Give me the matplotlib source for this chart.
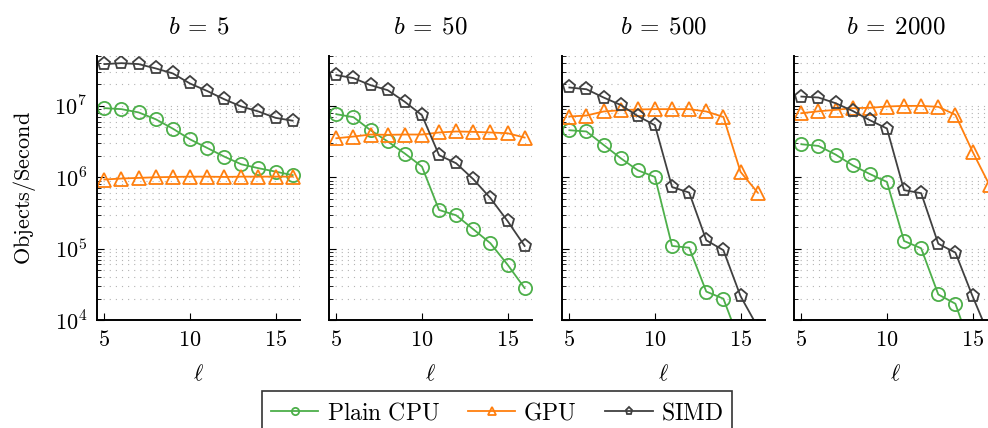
import math
import matplotlib
matplotlib.use("Agg")
import matplotlib.pyplot as plt
from matplotlib.ticker import LogLocator, FuncFormatter, FixedLocator, NullFormatter
from matplotlib.lines import Line2D

plt.rcParams['mathtext.fontset'] = 'cm'

ell = [5, 6, 7, 8, 9, 10, 11, 12, 13, 14, 15, 16]
panel_titles = [r'$b\:=\:5$', r'$b\:=\:50$', r'$b\:=\:500$', r'$b\:=\:2000$']

cpu_b5 = [9.3e6, 9.0e6, 8.1e6, 6.5e6, 4.8e6, 3.4e6, 2.58e6, 1.95e6, 1.52e6, 1.34e6, 1.20e6, 1.07e6]
gpu_b5 = [0.93e6, 0.96e6, 0.98e6, 1.0e6, 1.01e6, 1.02e6, 1.02e6, 1.01e6, 1.02e6, 1.02e6, 1.02e6, 1.02e6]
simd_b5 = [3.85e7, 3.97e7, 3.85e7, 3.35e7, 2.85e7, 2.06e7, 1.62e7, 1.24e7, 9.8e6, 8.35e6, 6.8e6, 6.2e6]

cpu_b50 = [7.65e6, 6.95e6, 4.56e6, 3.17e6, 2.15e6, 1.41e6, 3.48e5, 2.93e5, 1.87e5, 1.19e5, 5.97e4, 2.8e4]
gpu_b50 = [3.52e6, 3.72e6, 3.97e6, 3.93e6, 3.97e6, 3.97e6, 4.24e6, 4.38e6, 4.33e6, 4.24e6, 4.14e6, 3.6e6]
simd_b50 = [2.7e7, 2.45e7, 1.95e7, 1.66e7, 1.14e7, 7.4e6, 2.04e6, 1.57e6, 9.4e5, 5.1e5, 2.44e5, 1.09e5]

cpu_b500 = [4.56e6, 4.38e6, 2.84e6, 1.85e6, 1.25e6, 1.01e6, 1.09e5, 1.03e5, 2.5e4, 1.99e4, 4.6e3, 1.5e3]
gpu_b500 = [7.1e6, 7.33e6, 8.35e6, 8.7e6, 8.9e6, 9.0e6, 9.0e6, 9.0e6, 8.35e6, 7.0e6, 1.19e6, 6.1e5]
simd_b500 = [1.81e7, 1.71e7, 1.31e7, 1.03e7, 7.2e6, 5.36e6, 7.3e5, 6.1e5, 1.31e5, 9.5e4, 2.16e4, 8e3]

cpu_b2000 = [2.9e6, 2.75e6, 2.08e6, 1.47e6, 1.11e6, 8.6e5, 1.28e5, 1.01e5, 2.28e4, 1.69e4, 3.5e3, 1.2e3]
gpu_b2000 = [7.9e6, 8.4e6, 8.8e6, 9.3e6, 9.4e6, 9.8e6, 1.0e7, 1.0e7, 9.7e6, 7.5e6, 2.29e6, 7.7e5]
simd_b2000 = [1.35e7, 1.31e7, 1.09e7, 8.5e6, 6.3e6, 4.82e6, 6.6e5, 5.98e5, 1.17e5, 8.8e4, 2.16e4, 5.8e3]

cpu_all = [cpu_b5, cpu_b50, cpu_b500, cpu_b2000]
gpu_all = [gpu_b5, gpu_b50, gpu_b500, gpu_b2000]
simd_all = [simd_b5, simd_b50, simd_b500, simd_b2000]

series_labels = [r'$\mathrm{Plain\ CPU}$', r'$\mathrm{GPU}$', r'$\mathrm{SIMD}$']
x_ticks = [5, 10, 15]

C_CPU = '#4daf4a'
C_GPU = '#ff7f0e'
C_SIMD = '#404040'

W, H = 988, 428
fig = plt.figure(figsize=(W / 100, H / 100), dpi=100)

lefts = [97, 329, 562, 794]
ax_w = 203
ax_top = 56
ax_bot = 320

fs = 16
style = dict(lw=1.3, ms=9.5, mew=1.3, mfc='none')

for i in range(4):
    ax = fig.add_axes([lefts[i] / W, 1 - ax_bot / H, ax_w / W, (ax_bot - ax_top) / H])
    ax.plot(ell, cpu_all[i], color=C_CPU, marker='o', **style)
    ax.plot(ell, gpu_all[i], color=C_GPU, marker='^', **style)
    ax.plot(ell, simd_all[i], color=C_SIMD, marker='p', **style)
    ax.set_yscale('log')
    ax.set_ylim(1e4, 5e7)
    ax.set_xlim(4.57, 16.43)
    ax.spines['top'].set_visible(False)
    ax.spines['right'].set_visible(False)
    for s in ['left', 'bottom']:
        ax.spines[s].set_linewidth(1.4)
    ax.xaxis.set_major_locator(FixedLocator(x_ticks))
    ax.xaxis.set_major_formatter(FuncFormatter(lambda v, p: r'$%d$' % v))
    ax.yaxis.set_major_locator(LogLocator(base=10, numticks=10))
    ax.yaxis.set_minor_locator(LogLocator(base=10, subs=range(2, 10), numticks=10))
    ax.yaxis.set_minor_formatter(NullFormatter())
    if i == 0:
        ax.yaxis.set_major_formatter(FuncFormatter(lambda v, p: r'$10^{%d}$' % round(math.log10(v))))
        ax.set_ylabel(r'$\mathrm{Objects/Second}$', fontsize=fs, labelpad=12)
    else:
        ax.yaxis.set_major_formatter(NullFormatter())
    ax.tick_params(axis='both', which='major', direction='in', length=5, width=0.8, labelsize=fs, pad=7)
    ax.tick_params(axis='y', which='minor', direction='in', length=3, width=0.6)
    ax.tick_params(axis='x', which='minor', length=0)
    ax.grid(which='both', axis='y', linestyle=(0, (1, 4.5)), color='#b4b4b4', linewidth=0.8)
    ax.set_axisbelow(True)
    ax.set_xlabel(r'$\ell$', fontsize=fs, labelpad=10)
    ax.set_title(panel_titles[i], fontsize=18, pad=16)

handles = [
    Line2D([], [], color=C_CPU, marker='o', **style),
    Line2D([], [], color=C_GPU, marker='^', **style),
    Line2D([], [], color=C_SIMD, marker='p', **style),
]
leg = fig.legend(handles, series_labels, loc='upper center', bbox_to_anchor=(497 / W, 1 - 391 / H),
                 ncol=3, fontsize=17, frameon=True, fancybox=False, edgecolor='black',
                 borderaxespad=0, markerscale=0.55, handlelength=2.0, handletextpad=0.35,
                 columnspacing=1.2, borderpad=0.4)
leg.get_frame().set_linewidth(1.2)

fig.savefig('out.png', dpi=100)
